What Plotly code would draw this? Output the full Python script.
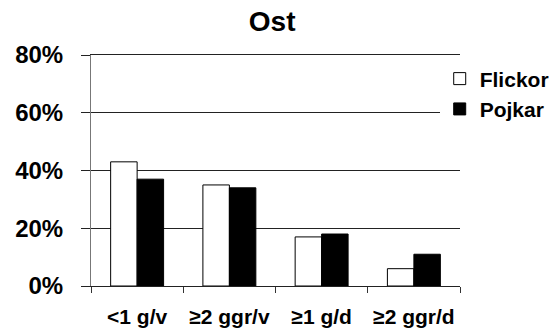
import plotly.graph_objects as go

categories = ["<1 g/v", "≥2 ggr/v", "≥1 g/d", "≥2 ggr/d"]
flickor = [43, 35, 17, 6]
pojkar = [37, 34, 18, 11]
yticks = [0, 20, 40, 60, 80]

FONT = "Liberation Sans"

fig = go.Figure()
fig.add_trace(go.Bar(x=categories, y=flickor, name="<b>Flickor</b>",
                     marker=dict(color="white", line=dict(color="black", width=1))))
fig.add_trace(go.Bar(x=categories, y=pojkar, name="<b>Pojkar</b>",
                     marker=dict(color="black", line=dict(color="black", width=1))))

fig.update_layout(
    width=552, height=329,
    margin=dict(l=91, r=92, t=55, b=43, autoexpand=False),
    paper_bgcolor="white", plot_bgcolor="white",
    barmode="group", bargap=0.426, bargroupgap=0,
    font=dict(family=FONT, color="black"),
    title=dict(text="<b>Ost</b>", x=0.493, xanchor="center", y=0.935, yanchor="middle",
               font=dict(size=28, family=FONT, color="black")),
    legend=dict(x=0.945, xref="paper", y=0.985, xanchor="left", yanchor="top",
                font=dict(size=21, family=FONT, color="black"),
                bgcolor="white", tracegroupgap=0, itemwidth=30),
    showlegend=True,
)
fig.update_xaxes(
    type="category", tickson="boundaries", ticks="outside", ticklen=6,
    tickcolor="#333", showline=True, linecolor="#222", linewidth=1, mirror=True,
    showgrid=False, tickangle=0, automargin=False,
    tickfont=dict(size=21, family=FONT, color="black"),
    tickvals=categories, ticktext=["<b>%s</b>" % c for c in categories],
    ticklabelstandoff=12,
)
fig.update_yaxes(
    range=[0, 80], tickvals=yticks, ticktext=["<b>%d%%</b>" % v for v in yticks],
    ticks="outside", ticklen=9, tickcolor="#222",
    showline=True, linecolor="#777", linewidth=1, automargin=False,
    showgrid=True, gridcolor="#222", gridwidth=1, zeroline=False,
    tickfont=dict(size=24, family=FONT, color="black"),
    ticklabelstandoff=13,
)

fig.write_html("out.html")
